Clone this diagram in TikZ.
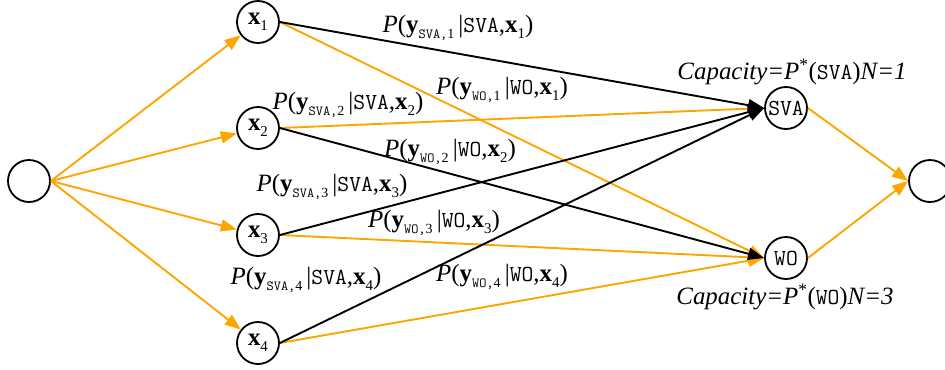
\documentclass[tikz,border=0pt]{standalone}
\usepackage{fontspec}
\setmainfont{Liberation Serif}
\setmonofont{Latin Modern Mono}
\usetikzlibrary{arrows.meta}
\definecolor{gvorange}{RGB}{255,165,0}

\newcommand{\vecx}[1]{\textbf{x}\raisebox{-0.5ex}{\fontsize{15}{15}\selectfont #1}}
\newcommand{\prob}[3]{\textit{P}(\textbf{y}\raisebox{-0.5ex}{\fontsize{14}{14}\selectfont\texttt{#1,}#2}\,|{\fontsize{23}{23}\ttfamily #1},\vecx{#3})}
\newcommand{\capac}[2]{\textit{Capacity=P}\textsuperscript{*}({\fontsize{23}{23}\ttfamily #1})\textit{N=#2}}

\begin{document}
\begin{tikzpicture}[
  x=1bp, y=-1bp,
  state/.style = {circle, draw, line width=1.8bp, minimum size=42bp, inner sep=0pt, font=\fontsize{25}{25}\selectfont},
  flow/.style  = {line width=1.9bp, -{Triangle[length=16bp,width=12bp]}},
  hot/.style   = {flow, gvorange},
  cold/.style  = {flow, black},
  lbl/.style   = {inner sep=0pt, font=\fontsize{25}{25}\selectfont}
]
  \useasboundingbox (0,0) rectangle (945,369);

  % source, inputs, outputs, sink
  \node[state] (src) at (29,181) {};
  \node[state] (x1) at (258,22) {\vecx{1}};
  \node[state] (x2) at (258,128) {\vecx{2}};
  \node[state] (x3) at (258,235) {\vecx{3}};
  \node[state] (x4) at (258,343) {\vecx{4}};
  \node[state, font=\fontsize{23}{23}\ttfamily] (sva) at (786,108) {SVA};
  \node[state, font=\fontsize{23}{23}\ttfamily] (wo) at (786,258) {WO};
  \node[state] (sink) at (930,181) {};

  % source -> inputs
  \foreach \i in {1,...,4}
    \draw[hot] (src.east) -- (x\i);

  % inputs -> outputs
  \draw[hot] (x1.east) -- (wo.west);
  \draw[hot] (x2.east) -- (sva.west);
  \draw[hot] (x3.east) -- (wo.west);
  \draw[hot] (x4.east) -- (wo.west);
  \draw[cold] (x1.east) -- (sva.west);
  \draw[cold] (x2.east) -- (wo.west);
  \draw[cold] (x3.east) -- (sva.west);
  \draw[cold] (x4.east) -- (sva.west);

  % outputs -> sink
  \draw[hot] (sva.east) -- (sink.west);
  \draw[hot] (wo.east) -- (sink.west);

  % channel labels
  \node[lbl] (p_sva1) at (458,28) {\prob{SVA}{1}{1}};
  \node[lbl] (p_wo1) at (502,90) {\prob{WO}{1}{1}};
  \node[lbl] (p_sva2) at (348,105) {\prob{SVA}{2}{2}};
  \node[lbl] (p_wo2) at (450,152) {\prob{WO}{2}{2}};
  \node[lbl] (p_sva3) at (332,187) {\prob{SVA}{3}{3}};
  \node[lbl] (p_wo3) at (434,223) {\prob{WO}{3}{3}};
  \node[lbl] (p_sva4) at (306,280) {\prob{SVA}{4}{4}};
  \node[lbl] (p_wo4) at (502,277) {\prob{WO}{4}{4}};

  % capacities
  \node[lbl] (cap_sva) at (792,72) {\capac{SVA}{1}};
  \node[lbl] (cap_wo) at (785,297) {\capac{WO}{3}};
\end{tikzpicture}
\end{document}
